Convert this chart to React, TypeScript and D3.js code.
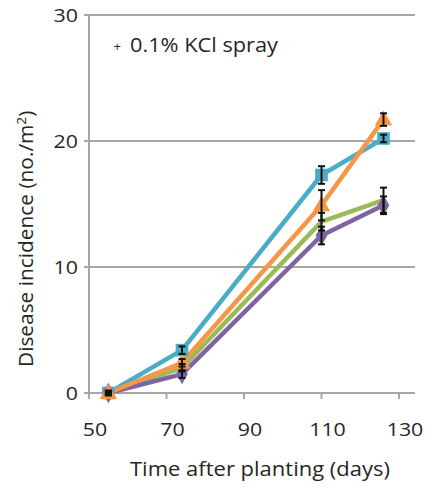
import React from "react";
import * as d3 from "d3";

const days = [55, 74, 110, 126];
const seriesNames = ["cyan", "green", "purple", "orange"];
const cyanValues = [0, 3.4, 17.3, 20.2];
const cyanErrors = [0.2, 0.3, 0.7, 0.3];
const greenValues = [0, 2.0, 13.6, 15.3];
const greenErrors = [0.1, 0.3, 0.7, 1.0];
const purpleValues = [0, 1.5, 12.5, 14.9];
const purpleErrors = [0.1, 0.3, 0.7, 0.7];
const orangeValues = [0, 2.4, 14.9, 21.7];
const orangeErrors = [0.1, 0.3, 1.2, 0.5];
const xTicks = [50, 70, 90, 110, 130];
const yTicks = [0, 10, 20, 30];

const series = [
  { name: seriesNames[0], values: cyanValues, errors: cyanErrors, color: "#4BACC6", marker: "square" },
  { name: seriesNames[1], values: greenValues, errors: greenErrors, color: "#9BBB59", marker: "none" },
  { name: seriesNames[2], values: purpleValues, errors: purpleErrors, color: "#8064A2", marker: "diamond" },
  { name: seriesNames[3], values: orangeValues, errors: orangeErrors, color: "#F79646", marker: "triangle" },
];

const font = "'Open Sans', sans-serif";
const textColor = "#262626";

export default function App() {
  const x = d3.scaleLinear().domain([50, 130]).range([89, 399]);
  const y = d3.scaleLinear().domain([0, 30]).range([393, 15]);
  const line = d3
    .line<number>()
    .x((_, i) => x(days[i]))
    .y((v) => y(v));
  const symSquare = d3.symbol().type(d3.symbolSquare).size(160);
  const symTri = d3.symbol().type(d3.symbolTriangle).size(130);
  const symDiamond = d3.symbol().type(d3.symbolDiamond).size(120);
  const gridX0 = 84;
  const gridX1 = 415;
  const digitW = 12.2;
  return (
    <svg
      width={437}
      height={489}
      style={{ position: "absolute", left: 0, top: 0, background: "#fff" }}
    >
      {yTicks.filter((t) => t > 0).map((t) => (
        <line key={t} x1={gridX0} x2={gridX1} y1={y(t)} y2={y(t)} stroke="#a6a6a6" strokeWidth={2} />
      ))}
      <line x1={x(50)} x2={x(50)} y1={y(30)} y2={y(0) + 5} stroke="#a6a6a6" strokeWidth={2} />
      <line x1={gridX0} x2={x(50)} y1={y(0)} y2={y(0)} stroke="#a6a6a6" strokeWidth={2} />
      <line x1={x(50)} x2={gridX1} y1={y(0)} y2={y(0)} stroke="#a6a6a6" strokeWidth={2} />
      {xTicks.map((t) => (
        <line key={t} x1={x(t)} x2={x(t)} y1={y(0)} y2={y(0) + 6} stroke="#a6a6a6" strokeWidth={2} />
      ))}
      {yTicks.map((t) => (
        <text
          key={t}
          x={78}
          y={y(t) + 6.5}
          textAnchor="end"
          fontFamily={font}
          fontSize={18.5}
          fill={textColor}
          textLength={String(t).length * digitW}
          lengthAdjust="spacingAndGlyphs"
        >
          {t}
        </text>
      ))}
      {xTicks.map((t) => (
        <text
          key={t}
          x={x(t) + 6}
          y={436}
          textAnchor="middle"
          fontFamily={font}
          fontSize={18.5}
          fill={textColor}
          textLength={String(t).length * digitW}
          lengthAdjust="spacingAndGlyphs"
        >
          {t}
        </text>
      ))}
      <text
        x={130}
        y={476}
        fontFamily={font}
        fontSize={19.5}
        fill={textColor}
        textLength={260}
        lengthAdjust="spacingAndGlyphs"
      >
        Time after planting (days)
      </text>
      <g transform={`translate(33, 367) rotate(-90) scale(1.07, 1)`}>
        <text x={0} y={0} fontFamily={font} fontSize={19.5} fill={textColor}>
          Disease incidence (no./m
          <tspan dy={-7} fontSize={13}>2</tspan>
          <tspan dy={7}>)</tspan>
        </text>
      </g>
      <text x={113.5} y={51} fontFamily={font} fontSize={13} fill={textColor}>+</text>
      <text
        x={130}
        y={52}
        fontFamily={font}
        fontSize={19.5}
        fill={textColor}
        textLength={148}
        lengthAdjust="spacingAndGlyphs"
      >
        0.1% KCl spray
      </text>
      {series.map((s) => (
        <path key={s.name} d={line(s.values) || ""} fill="none" stroke={s.color} strokeWidth={4.5} strokeLinejoin="round" />
      ))}
      {series.map((s) =>
        s.values.map((v, i) => {
          const cx = x(days[i]);
          const cy = y(v);
          if (s.marker === "none") return null;
          const d =
            s.marker === "square" ? symSquare() : s.marker === "triangle" ? symTri() : symDiamond();
          return (
            <path
              key={s.name + i}
              d={d || ""}
              transform={`translate(${cx},${cy + (s.marker === "triangle" ? 1 : 0)})`}
              fill={s.color}
            />
          );
        })
      )}
      {series.map((s) =>
        s.values.map((v, i) => {
          const cx = x(days[i]);
          const e = s.errors[i];
          return (
            <g key={"e" + s.name + i} stroke="#111" strokeWidth={2}>
              <line x1={cx} x2={cx} y1={y(v + e)} y2={y(v - e)} />
              <line x1={cx - 3.5} x2={cx + 3.5} y1={y(v + e)} y2={y(v + e)} />
              <line x1={cx - 3.5} x2={cx + 3.5} y1={y(v - e)} y2={y(v - e)} />
            </g>
          );
        })
      )}
    </svg>
  );
}
